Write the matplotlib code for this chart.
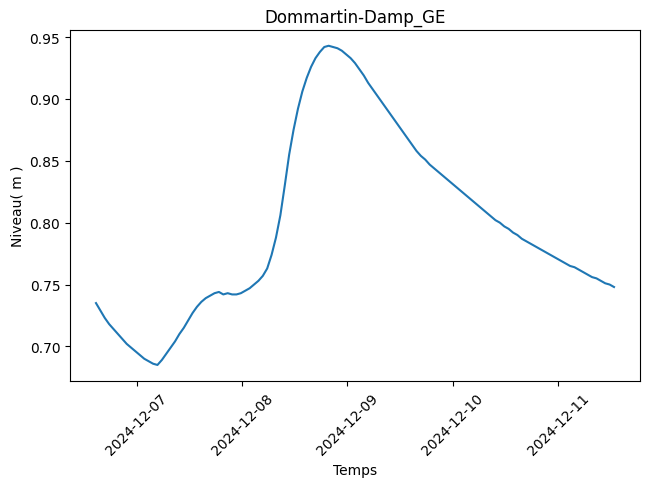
import matplotlib
matplotlib.use('Agg')
import matplotlib.pyplot as plt
import matplotlib.dates as mdates
import pandas as pd

# Niveau horaire (m), à partir du 2024-12-06 14:45
debut = '2024-12-06 14:45'
niveaux = [
    0.735, 0.729, 0.723, 0.718, 0.714, 0.710, 0.706, 0.702, 0.699, 0.696,
    0.693, 0.690, 0.688, 0.686, 0.685, 0.689, 0.694, 0.699, 0.704, 0.710,
    0.715, 0.721, 0.727, 0.732, 0.736, 0.739, 0.741, 0.743, 0.744, 0.742,
    0.743, 0.742, 0.742, 0.743, 0.745, 0.747, 0.750, 0.753, 0.757, 0.763,
    0.774, 0.788, 0.806, 0.830, 0.855, 0.875, 0.892, 0.906, 0.917, 0.926,
    0.933, 0.938, 0.942, 0.943, 0.942, 0.941, 0.939, 0.936, 0.933, 0.929,
    0.924, 0.919, 0.913, 0.908, 0.903, 0.898, 0.893, 0.888, 0.883, 0.878,
    0.873, 0.868, 0.863, 0.858, 0.854, 0.851, 0.847, 0.844, 0.841, 0.838,
    0.835, 0.832, 0.829, 0.826, 0.823, 0.820, 0.817, 0.814, 0.811, 0.808,
    0.805, 0.802, 0.800, 0.797, 0.795, 0.792, 0.790, 0.787, 0.785, 0.783,
    0.781, 0.779, 0.777, 0.775, 0.773, 0.771, 0.769, 0.767, 0.765, 0.764,
    0.762, 0.760, 0.758, 0.756, 0.755, 0.753, 0.751, 0.750, 0.748,
]
temps = pd.date_range(debut, periods=len(niveaux), freq='h')

fig = plt.figure(figsize=(6.49, 4.89), dpi=100)
ax = fig.add_subplot(111)
fig.subplots_adjust(left=0.108, right=0.986, top=0.937, bottom=0.219)

ax.plot(temps, niveaux, color='#1f77b4')
ax.set_title('Dommartin-Damp_GE')
ax.set_xlabel('Temps')
ax.set_ylabel('Niveau( m )')
ax.xaxis.set_major_locator(mdates.DayLocator())
ax.xaxis.set_major_formatter(mdates.DateFormatter('%Y-%m-%d'))
plt.setp(ax.get_xticklabels(), rotation=45)

plt.savefig('out.png')
